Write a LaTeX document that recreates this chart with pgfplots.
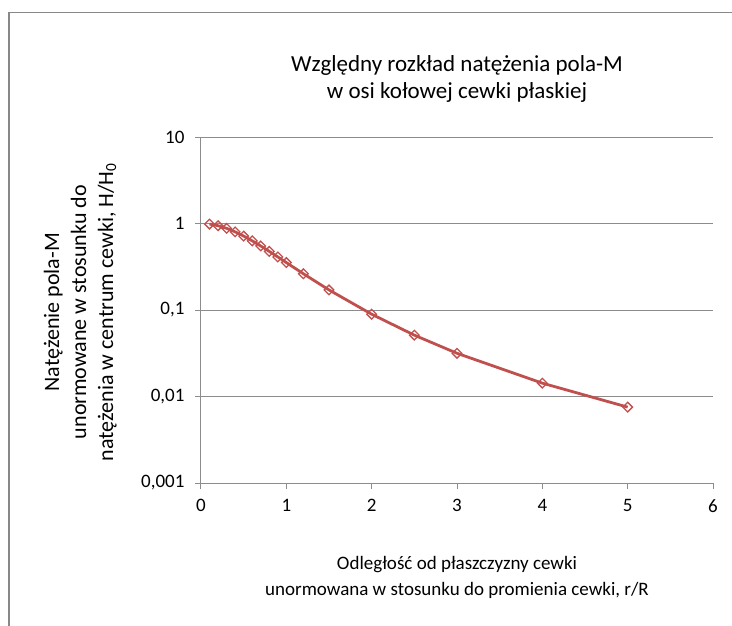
\documentclass[border=0pt]{standalone}
\usepackage{fontspec}
\setmainfont{Carlito}
\usepackage{pgfplots}
\pgfplotsset{compat=1.18}
\definecolor{sercol}{HTML}{C0504D}
\definecolor{axgray}{HTML}{8C8C8C}
\definecolor{framegray}{HTML}{888888}
\begin{document}
\begin{tikzpicture}
\useasboundingbox (0pt,0pt) rectangle (732pt,-626pt);
\draw[framegray, line width=1.6pt] (9pt,-626pt) -- (9pt,-12.7pt) -- (732pt,-12.7pt);
\begin{axis}[
  at={(201pt,-483pt)}, anchor=south west,
  scale only axis, width=512pt, height=346pt,
  xmin=0, xmax=6, ymin=0.001, ymax=10, ymode=log,
  axis x line=bottom, axis y line=left,
  axis line style={-, draw=axgray, line width=1pt},
  xtick={0,1,2,3,4,5,6}, xticklabels={0,1,2,3,4,5,6},
  ytick={0.001,0.01,0.1,1,10}, yticklabels={{0,001},{0,01},{0,1},1,10},
  yminorticks=false, xminorticks=false,
  tick align=outside, major tick length=6pt,
  tick style={axgray, line width=1pt},
  ymajorgrids, grid style={axgray, line width=1pt},
  tick label style={font=\fontsize{19}{23}\selectfont, text=black},
  xticklabel style={yshift=-7pt},
  yticklabel style={xshift=-7pt},
  title={Względny rozkład natężenia pola-M\\w osi kołowej cewki płaskiej},
  title style={font=\fontsize{23}{27}\selectfont, align=center, at={(axis description cs:0.5,1.15)}, anchor=center, inner sep=0pt},
  xlabel={Odległość od płaszczyzny cewki\\unormowana w stosunku do promienia cewki, r/R},
  xlabel style={font=\fontsize{19}{26}\selectfont, align=center, at={(axis description cs:0.5,-0.272)}, anchor=center, inner sep=0pt},
  ylabel={Natężenie pola-M\\unormowane w stosunku do\\natężenia w centrum cewki, H/H\textsubscript{0}},
  ylabel style={font=\fontsize{22}{27}\selectfont, align=center, at={(axis description cs:-0.236,0.494)}, anchor=center, rotate=0, inner sep=0pt},
  clip=false,
]
\addplot[sercol, line width=2.8pt, mark=square, mark size=3.4pt,
  mark options={rotate=45, fill=white, line width=1.3pt, draw=sercol}]
  coordinates {
  (0.1,0.9852) (0.2,0.9429) (0.3,0.8788) (0.4,0.8004) (0.5,0.7155)
  (0.6,0.6305) (0.7,0.5498) (0.8,0.4761) (0.9,0.4107) (1.0,0.3536)
  (1.2,0.2624) (1.5,0.1707) (2.0,0.0894) (2.5,0.0512) (3.0,0.0316)
  (4.0,0.01427) (5.0,0.00754)
  };
\end{axis}
\end{tikzpicture}
\end{document}
